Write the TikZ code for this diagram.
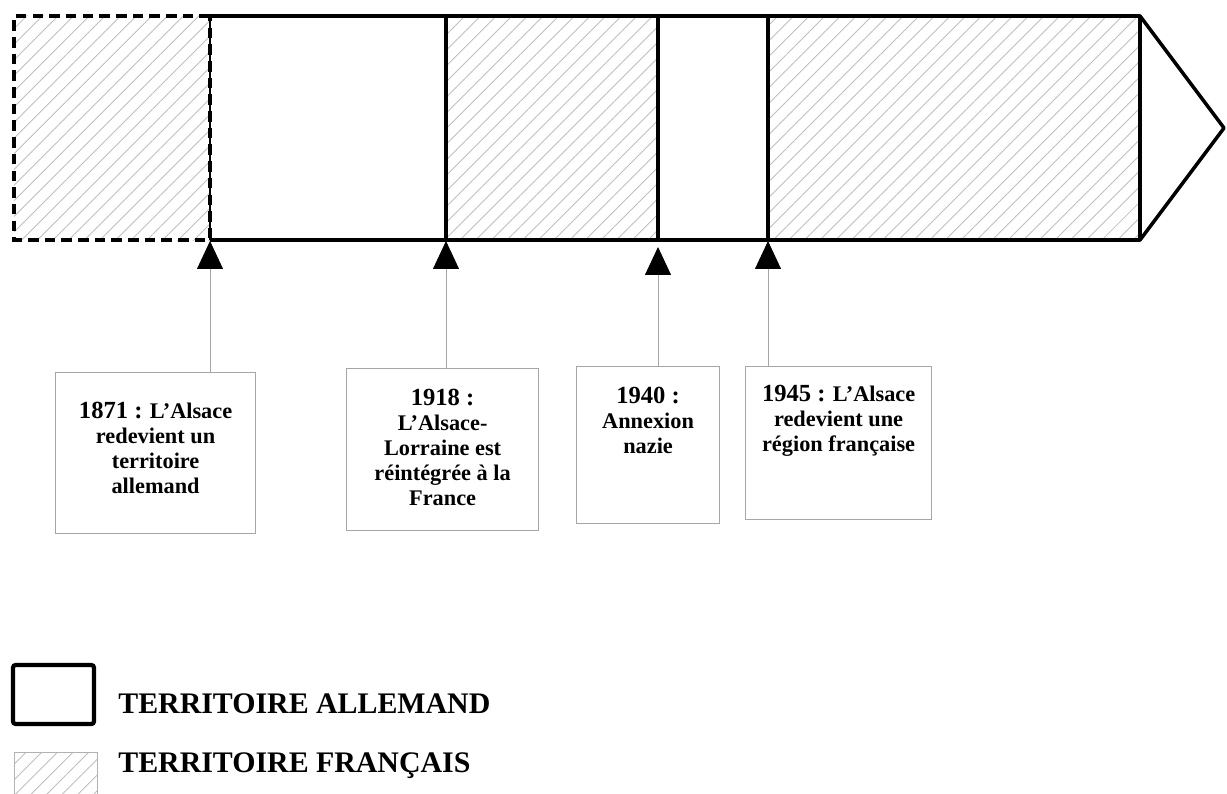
\documentclass[tikz,border=0pt]{standalone}
\usepackage{fontspec}
\setmainfont{Liberation Serif}
\usetikzlibrary{patterns.meta,arrows.meta}
\tikzset{
  hatch/.style={pattern={Lines[angle=45,distance=6.3pt,line width=0.5pt]},pattern color=black!25},
  evt/.style={draw=black!35,line width=0.7pt,inner sep=0pt,anchor=north west},
  pin/.style={draw=black!35,line width=0.5pt,-{Triangle[width=0.52cm,length=0.56cm,black]}},
  legtxt/.style={anchor=base west,inner sep=0pt,font=\bfseries\fontsize{17}{20}\selectfont}
}
\newcommand{\evtxt}[4]{\parbox[c][#2][t]{#1}{\centering\bfseries\fontsize{12.7}{14.2}\selectfont\vspace*{#3}#4}}
\newcommand{\yr}[1]{{\fontsize{14}{14.2}\selectfont #1}}
\begin{document}
\begin{tikzpicture}[x=0.02cm,y=-0.02cm]
  \useasboundingbox (0,0) rectangle (1227,794);

  \fill[hatch] (14,16) rectangle (210,240);
  \fill[hatch] (446,16) rectangle (658,240);
  \fill[hatch] (768,16) rectangle (1140,240);
  \draw[line width=2pt,line join=round] (210,16) -- (1140,16) -- (1224,128) -- (1140,240) -- (210,240);
  \draw[line width=1.8pt] (446,16) -- (446,240) (658,16) -- (658,240) (768,16) -- (768,240) (1140,16) -- (1140,240);
  \draw[line width=1pt] (210,16) -- (210,240);
  \draw[line width=2.6pt,dash pattern=on 6pt off 3.5pt] (210,16) -- (14,16) -- (14,240) -- (210,240) -- cycle;

  \coordinate (p1) at (210,241);
  \coordinate (p2) at (446,241);
  \coordinate (p3) at (658,247);
  \coordinate (p4) at (768,241);

  \node[evt] (b1) at (55,372) {\evtxt{4cm}{3.22cm}{0.6cm}{\yr{1871 :} L’Alsace\\redevient un\\territoire\\allemand}};
  \node[evt] (b2) at (346,368) {\evtxt{3.84cm}{3.24cm}{0.42cm}{\yr{1918 :}\\L’Alsace-\\Lorraine est\\réintégrée à la\\France}};
  \node[evt] (b3) at (576,366) {\evtxt{2.86cm}{3.14cm}{0.42cm}{\yr{1940 :}\\Annexion\\nazie}};
  \node[evt] (b4) at (745,366) {\evtxt{3.72cm}{3.06cm}{0.38cm}{\yr{1945 :} L’Alsace\\redevient une\\région française}};

  \draw[pin] (b1.north -| p1) -- (p1);
  \draw[pin] (b2.north -| p2) -- (p2);
  \draw[pin] (b3.north -| p3) -- (p3);
  \draw[pin] (b4.north -| p4) -- (p4);

  \draw[line width=2.4pt,rounded corners=1.5pt] (13,665) rectangle (94,724);
  \node[legtxt] (la) at (118,713) {TERRITOIRE ALLEMAND};
  \fill[hatch] (14,752) rectangle (97,800);
  \draw[black!30,line width=0.5pt] (14,800) -- (14,752) -- (97,752) -- (97,800);
  \node[legtxt] (lf) at (118,772) {TERRITOIRE FRANÇAIS};
\end{tikzpicture}
\end{document}
